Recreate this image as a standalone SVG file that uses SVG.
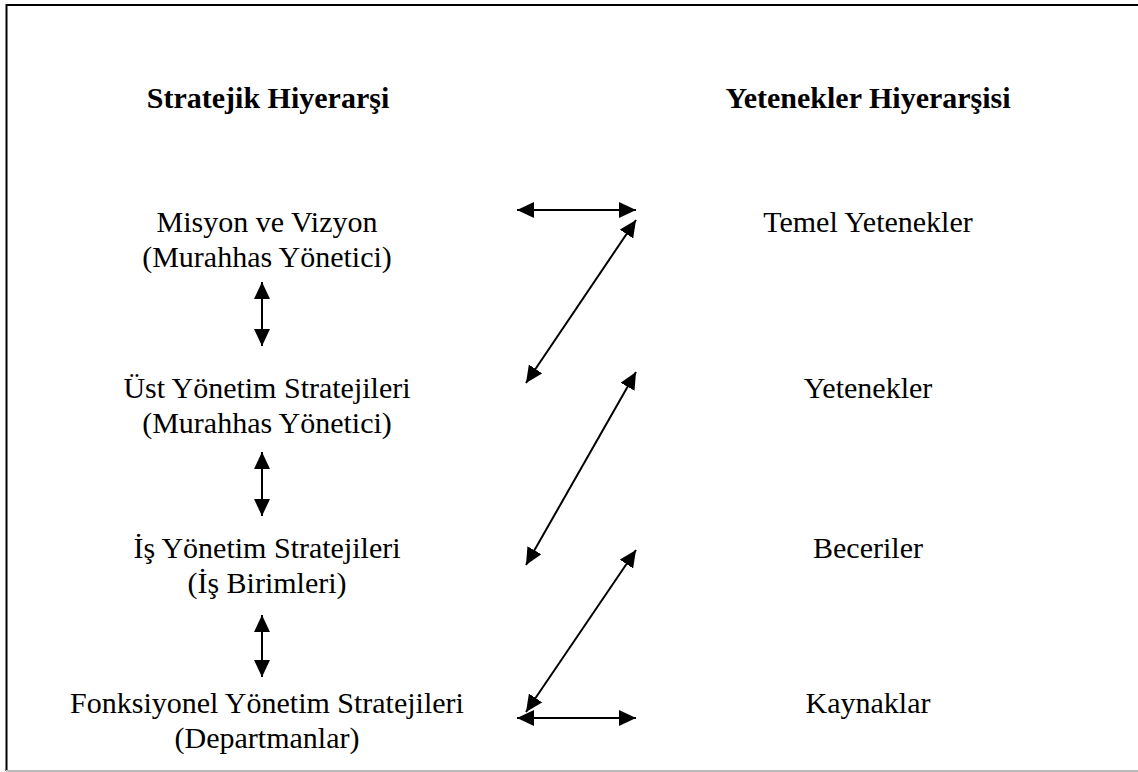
<svg xmlns="http://www.w3.org/2000/svg" width="1138" height="772" viewBox="0 0 1138 772">
<style>
text{font-family:"Liberation Serif","Times New Roman",serif;font-size:30px;fill:#000;text-anchor:middle}
.h{font-weight:bold}
.c{stroke:#000;stroke-width:2;fill:none;marker-start:url(#ah);marker-end:url(#ah)}
</style>
<defs>
<marker id="ah" markerUnits="userSpaceOnUse" markerWidth="18" markerHeight="16" refX="17" refY="8" orient="auto-start-reverse" viewBox="0 0 18 16">
<path d="M0,0 L17,8 L0,16 Z" fill="#000"/>
</marker>
</defs>
<rect x="0" y="0" width="1138" height="772" fill="#fff"/>
<path d="M1138,5 H6.5 V771" fill="none" stroke="#000" stroke-width="2"/>
<line x1="6" y1="771" x2="1138" y2="771" stroke="#bbb" stroke-width="2"/>
<g id="heading-left"><text class="h" x="268" y="108">Stratejik Hiyerarşi</text></g>
<g id="heading-right"><text class="h" x="868" y="108">Yetenekler Hiyerarşisi</text></g>
<g id="misyon"><text x="267" y="232">Misyon ve Vizyon</text><text x="267" y="267">(Murahhas Yönetici)</text></g>
<g id="ust"><text x="267" y="398">Üst Yönetim Stratejileri</text><text x="267" y="433">(Murahhas Yönetici)</text></g>
<g id="is"><text x="267" y="558">İş Yönetim Stratejileri</text><text x="267" y="593">(İş Birimleri)</text></g>
<g id="fonksiyonel"><text x="267" y="713">Fonksiyonel Yönetim Stratejileri</text><text x="267" y="748">(Departmanlar)</text></g>
<g id="temel"><text x="868" y="232">Temel Yetenekler</text></g>
<g id="yetenekler"><text x="868" y="398">Yetenekler</text></g>
<g id="beceriler"><text x="868" y="558">Beceriler</text></g>
<g id="kaynaklar"><text x="868" y="713">Kaynaklar</text></g>
<g id="connectors">
<line class="c" x1="517" y1="210" x2="636" y2="210"/>
<line class="c" x1="526" y1="383" x2="636" y2="220"/>
<line class="c" x1="526" y1="565" x2="636" y2="372"/>
<line class="c" x1="526" y1="712" x2="636" y2="550"/>
<line class="c" x1="517" y1="718" x2="636" y2="718"/>
<line class="c" x1="262" y1="282" x2="262" y2="346"/>
<line class="c" x1="262" y1="452" x2="262" y2="516"/>
<line class="c" x1="262" y1="615" x2="262" y2="677"/>
</g>
</svg>
